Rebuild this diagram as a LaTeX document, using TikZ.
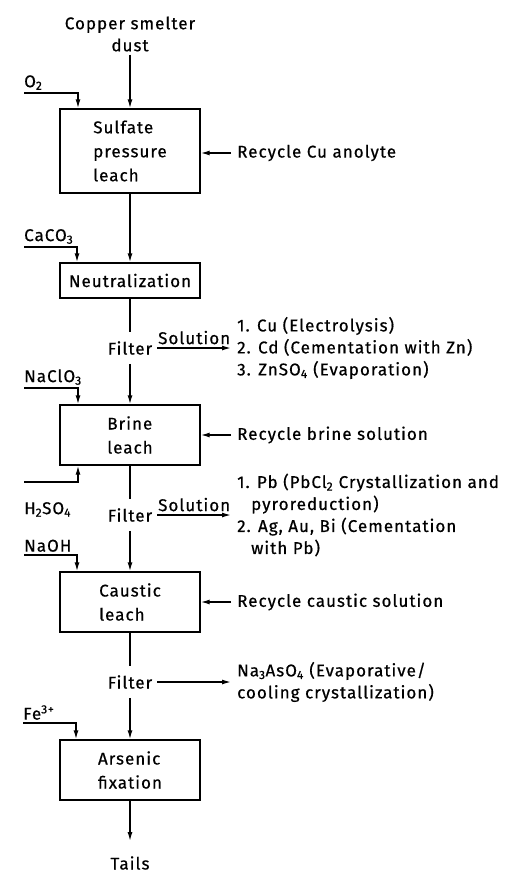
\documentclass[tikz,border=0pt]{standalone}
\usepackage{fontspec}
\setmainfont[LetterSpace=6, FakeBold=0.6]{Fira Sans}
\usetikzlibrary{arrows.meta,positioning}
\tikzset{
  box/.style={draw, line width=1.4pt, minimum width=140pt, minimum height=60pt,
              align=left, inner sep=0pt, font=\fontsize{17}{24}\selectfont},
  lbl/.style={inner sep=3pt, align=left},
  feed/.style={lbl, anchor=south west, inner xsep=0pt},
  filt/.style={inner xsep=5pt, inner ysep=9pt},
  arrow/.style={-{Latex[length=9pt,width=5pt]}, line width=1.4pt},
  flow/.style={line width=1.4pt}
}

\begin{document}
\begin{tikzpicture}[x=1pt, y=-1pt, font=\fontsize{17}{22}\selectfont]
\useasboundingbox (0,0) rectangle (514,875);

% process stages
\node[lbl, align=center] (dust) at (130,34) {Copper smelter\\dust};
\node[box, minimum height=84pt] (sul) at (130,151) {Sulfate\\pressure\\leach};
\node[box, minimum height=35pt] (neu) at (130,280.5) {Neutralization};
\node[filt] (f1) at (130,348) {Filter};
\node[box] (brine) at (130,435) {Brine\\leach};
\node[filt] (f2) at (130,515) {Filter};
\node[box] (caus) at (130,602) {Caustic\\leach};
\node[filt] (f3) at (130,682) {Filter};
\node[box] (ars) at (130,770) {Arsenic\\fixation};
\node[lbl, inner ysep=0pt] (tails) at (130,863) {Tails};

% reagents
\node[feed] (o2) at (24,93) {O\textsubscript{2}};
\node[feed] (caco) at (24,247) {CaCO\textsubscript{3}};
\node[feed] (naclo) at (24,388) {NaClO\textsubscript{3}};
\coordinate (h2in) at (24,482);
\node[lbl, inner xsep=0pt, below right=17pt and 0pt of h2in] (h2so) {H\textsubscript{2}SO\textsubscript{4}};
\node[feed] (naoh) at (24,555) {NaOH};
\node[feed] (fe) at (23,723) {Fe\textsuperscript{3+}};

% recycles and products
\node[lbl, anchor=west, inner xsep=6pt] (rc1) at (231,153) {Recycle Cu anolyte};
\node[lbl, anchor=west, inner xsep=6pt] (rc2) at (231,435) {Recycle brine solution};
\node[lbl, anchor=west, inner xsep=6pt] (rc3) at (231,602) {Recycle caustic solution};
\node[lbl, anchor=west, inner xsep=6pt] (cu) at (231,348)
  {1. Cu (Electrolysis)\\2. Cd (Cementation with Zn)\\3. ZnSO\textsubscript{4} (Evaporation)};
\node[lbl, anchor=west, inner xsep=6pt] (pb) at (231,515)
  {1. Pb (PbCl\textsubscript{2} Crystallization and\\\hspace*{14pt}pyroreduction)\\2. Ag, Au, Bi (Cementation\\\hspace*{14pt}with Pb)};
\node[lbl, anchor=west, inner xsep=6pt] (nas) at (231,682)
  {Na\textsubscript{3}AsO\textsubscript{4} (Evaporative/\\cooling crystallization)};

% main flow
\draw[arrow] (dust) -- (sul);
\draw[arrow] (sul) -- (neu);
\draw[flow] (neu) -- (f1);
\draw[arrow] (f1) -- (brine);
\draw[flow] (brine) -- (f2);
\draw[arrow] (f2) -- (caus);
\draw[flow] (caus) -- (f3);
\draw[arrow] (f3) -- (ars);
\draw[arrow, shorten >=15pt] (ars) -- (tails);

\draw[arrow] (o2.south west) -| ([xshift=-52pt]sul.north);
\draw[arrow] (caco.south west) -| ([xshift=-53pt]neu.north);
\draw[arrow] (naclo.south west) -| ([xshift=-52pt]brine.north);
\draw[arrow] (h2in) -| ([xshift=-52pt]brine.south);
\draw[arrow] (naoh.south west) -| ([xshift=-53pt]caus.north);
\draw[arrow] (fe.south west) -| ([xshift=-54pt]ars.north);

\draw[arrow] (rc1.west) -- (rc1.west -| sul.east);
\draw[arrow] (rc2.west) -- (rc2.west -| brine.east);
\draw[arrow] (rc3.west) -- (rc3.west -| caus.east);

\draw[arrow] (f1.east) -- node[lbl, above] {Solution} (f1.east -| cu.west);
\draw[arrow] (f2.east) -- node[lbl, above] {Solution} (f2.east -| pb.west);
\draw[arrow] (f3.east) -- (f3.east -| nas.west);
\end{tikzpicture}
\end{document}
